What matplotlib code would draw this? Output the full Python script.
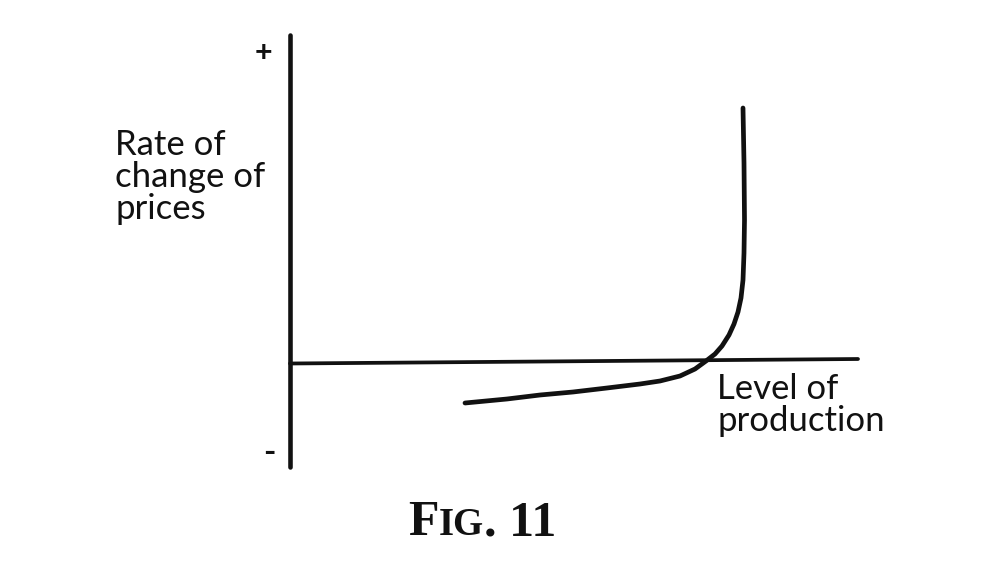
import matplotlib
matplotlib.use("Agg")
import matplotlib.pyplot as plt

# diagram units: origin where the axes cross, 1 unit ~ 100 px
curve_x = [1.75, 2.17, 2.50, 2.83, 3.17, 3.50, 3.70, 3.90, 4.05, 4.16, 4.25,
           4.32, 4.39, 4.44, 4.48, 4.51, 4.53, 4.54, 4.545, 4.54, 4.53]
curve_y = [-0.41, -0.37, -0.33, -0.30, -0.26, -0.22, -0.19, -0.14, -0.07, 0.01, 0.08,
           0.16, 0.27, 0.38, 0.50, 0.64, 0.82, 1.09, 1.42, 1.99, 2.54]

v_axis_x = [0.0, 0.0]
v_axis_y = [-1.05, 3.27]
h_axis_x = [0.0, 5.68]
h_axis_y = [-0.015, 0.03]

y_label = "Rate of\nchange of\nprices"
x_label = "Level of\nproduction"
caption = [("F", 36), ("IG", 28), (". 11", 36)]

ink = "#111111"
sans = ["Lato", "DejaVu Sans"]

fig = plt.figure(figsize=(10, 5.75), dpi=100)
ax = fig.add_axes([0, 0, 1, 1])
ax.set_xlim(-2.9, 7.1)
ax.set_ylim(-2.13, 3.62)
ax.axis("off")

ax.plot(v_axis_x, v_axis_y, color=ink, lw=3.3, solid_capstyle="round")
ax.plot(h_axis_x, h_axis_y, color=ink, lw=2.7, solid_capstyle="round")
ax.plot(curve_x, curve_y, color=ink, lw=3.4, solid_capstyle="round",
        solid_joinstyle="round")

ax.text(-0.27, 3.09, "+", fontsize=22, fontweight="bold", color=ink,
        ha="center", va="center", family=sans)
ax.text(-0.21, -0.90, "-", fontsize=24, fontweight="bold", color=ink,
        ha="center", va="center", family=sans)

ax.text(-1.75, 2.33, y_label, fontsize=25, color=ink, ha="left", va="top",
        linespacing=1.0, family=sans)
ax.text(4.27, -0.11, x_label, fontsize=25, color=ink, ha="left", va="top",
        linespacing=1.0, family=sans)

# small-caps caption built piece by piece
renderer = fig.canvas.get_renderer()
x0 = 408
for part, size in caption:
    t = fig.text(x0 / 1000, 40 / 575, part, fontsize=size, fontweight="bold",
                 family=["Liberation Serif", "DejaVu Serif"], color=ink,
                 ha="left", va="baseline")
    x0 = t.get_window_extent(renderer).x1

fig.savefig("out.png", dpi=100, facecolor="white")
